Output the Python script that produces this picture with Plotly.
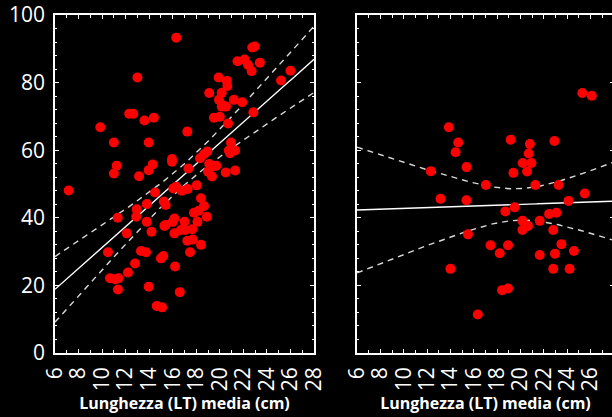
import numpy as np
import plotly.graph_objects as go

# ---------------- data ----------------
left_x = [16.3, 13.0, 12.3, 12.65, 9.85, 13.6, 14.4, 11.0, 13.96, 17.24,
          7.16, 11.24, 11.0, 13.14, 14.3, 13.96, 15.94, 15.94, 17.33, 18.94,
          18.66, 18.32, 19.1, 19.45, 19.7, 19.0, 19.34, 20.5, 21.3, 20.95,
          20.76, 21.3, 20.87, 20.7, 19.5, 20.0, 19.1, 19.9, 20.6, 20.64,
          20.16, 19.93, 20.16, 20.53, 21.2, 21.9, 22.85, 21.5, 22.1, 22.4,
          22.7, 23.4, 22.76, 22.97, 25.2, 26.0, 14.5, 16.05, 16.3, 16.76,
          17.27, 18.04, 18.4, 15.24, 15.4, 13.8, 18.66, 18.2, 17.8, 18.9,
          18.1, 17.66, 17.0, 16.7, 17.05, 16.14, 16.0, 15.4, 15.3, 16.14,
          17.24, 17.7, 17.47, 18.4, 11.33, 12.94, 12.9, 13.8, 14.2, 12.1,
          10.5, 13.3, 13.73, 15.0, 15.2, 12.8, 12.2, 10.67, 11.1, 11.4,
          11.35, 16.2, 13.96, 16.6, 14.64, 15.1, 20.3]
left_y = [93.3, 81.5, 70.8, 70.8, 66.8, 68.8, 69.6, 62.3, 62.3, 65.5,
          48.1, 55.4, 53.1, 52.3, 55.8, 54.1, 57.4, 56.6, 54.6, 59.6,
          58.8, 57.6, 55.9, 55.3, 55.4, 53.6, 52.2, 53.4, 54.0, 62.3,
          59.9, 59.9, 59.1, 67.9, 69.6, 69.9, 76.9, 81.5, 80.5, 79.0,
          77.0, 74.9, 72.9, 72.9, 74.9, 74.2, 71.2, 86.3, 86.8, 85.2,
          83.4, 85.9, 90.4, 90.7, 80.6, 83.5, 47.5, 48.7, 49.2, 48.0,
          48.5, 49.6, 45.8, 44.8, 43.8, 44.1, 43.5, 42.1, 41.5, 40.3,
          38.8, 36.6, 38.8, 36.4, 36.4, 39.8, 38.8, 37.9, 37.6, 35.4,
          33.2, 33.6, 29.8, 32.0, 40.0, 42.5, 40.3, 38.8, 35.9, 35.4,
          29.8, 30.2, 29.8, 28.0, 28.7, 26.5, 23.8, 22.1, 21.8, 22.1,
          18.8, 25.6, 19.6, 18.0, 13.9, 13.5, 73.2]

right_x = [25.29, 26.1, 13.86, 14.66, 14.44, 15.38, 12.32, 17.03, 19.16, 20.8,
           20.7, 20.19, 20.93, 19.39, 20.56, 22.9, 21.27, 23.26, 25.5, 13.15,
           15.37, 24.1, 19.5, 18.7, 22.44, 23.07, 20.16, 20.64, 20.16, 21.64,
           22.8, 15.5, 23.5, 17.43, 18.93, 18.22, 21.64, 22.95, 24.57, 14.0,
           22.8, 24.2, 18.42, 18.93, 16.34]
right_y = [76.9, 76.1, 66.8, 62.3, 59.4, 55.0, 53.8, 49.7, 63.1, 61.8,
           59.0, 56.2, 56.2, 53.3, 53.7, 62.7, 49.7, 49.7, 47.2, 45.6,
           45.2, 45.0, 43.1, 41.9, 41.1, 41.5, 39.1, 37.6, 36.4, 39.1,
           36.4, 35.1, 32.2, 31.9, 31.9, 29.5, 29.0, 29.4, 30.2, 24.9,
           24.9, 24.9, 18.6, 19.1, 11.4]

x_ticks = list(range(6, 29, 2))
y_ticks = [0, 20, 40, 60, 80, 100]
x_title = "Lunghezza (LT) media (cm)"
X_RANGE = [6, 28]
Y_RANGE = [0, 100]

# ---------------- fit helpers ----------------
def fit_with_ci(xs, ys, tval):
    x = np.asarray(xs, float)
    y = np.asarray(ys, float)
    n = len(x)
    b, a = np.polyfit(x, y, 1)
    resid = y - (a + b * x)
    s = np.sqrt(np.sum(resid ** 2) / (n - 2))
    xm = x.mean()
    sxx = np.sum((x - xm) ** 2)
    xg = np.linspace(X_RANGE[0], X_RANGE[1], 200)
    yg = a + b * xg
    se = s * np.sqrt(1.0 / n + (xg - xm) ** 2 / sxx)
    return xg, yg, yg - tval * se, yg + tval * se

fig = go.Figure()
panels = [(left_x, left_y, "x", "y", 1.983), (right_x, right_y, "x2", "y2", 2.017)]
for xs, ys, xa, ya, tv in panels:
    xg, yg, lo, hi = fit_with_ci(xs, ys, tv)
    for band in (lo, hi):
        fig.add_trace(go.Scatter(x=xg, y=band, mode="lines", xaxis=xa, yaxis=ya,
                                 line=dict(color="#d9d9d9", width=1.4, dash="6px,5px"),
                                 showlegend=False, hoverinfo="skip", cliponaxis=True))
    fig.add_trace(go.Scatter(x=xg, y=yg, mode="lines", xaxis=xa, yaxis=ya,
                             line=dict(color="white", width=1.4),
                             showlegend=False, hoverinfo="skip"))
    fig.add_trace(go.Scatter(x=xs, y=ys, mode="markers", xaxis=xa, yaxis=ya,
                             marker=dict(color="#ff0000", size=10, line=dict(width=0)),
                             showlegend=False))

W = 620
ML, MR, MT, MB = 55, 6, 15, 64
pw = W - ML - MR
d1 = [0, (314 - ML) / pw]
d2 = [(357 - ML) / pw, 1]

tickfont = dict(family="Open Sans", size=21, color="white")
common_x = dict(range=X_RANGE, tickmode="array", tickvals=x_ticks, ticktext=[str(v) for v in x_ticks],
                tickangle=-90, showgrid=False, zeroline=False, showline=True, linecolor="white",
                linewidth=1.5, mirror="ticks", ticks="inside", ticklen=4, tickcolor="white",
                tickwidth=1, minor=dict(ticks="inside", ticklen=3, dtick=1, tickcolor="white", showgrid=False),
                tickfont=tickfont, ticklabelstandoff=4,
                title=dict(text="<b>" + x_title + "</b>", font=dict(family="Open Sans", size=16, color="white"),
                           standoff=8))
common_y = dict(range=Y_RANGE, tickmode="array", tickvals=y_ticks, showgrid=False, zeroline=False,
                showline=True, linecolor="white", linewidth=1.5, mirror="ticks", ticks="inside",
                ticklen=4, tickcolor="white", tickwidth=1,
                minor=dict(ticks="inside", ticklen=2, dtick=4, tickcolor="white", showgrid=False),
                tickfont=tickfont, ticklabelstandoff=4)

fig.update_layout(
    width=W, height=417,
    margin=dict(l=ML, r=MR, t=MT, b=MB, autoexpand=False),
    paper_bgcolor="black", plot_bgcolor="black",
    xaxis=dict(domain=d1, anchor="y", **common_x),
    yaxis=dict(domain=[0, 1], anchor="x", **common_y),
    xaxis2=dict(domain=d2, anchor="y2", **common_x),
    yaxis2=dict(domain=[0, 1], anchor="x2", showticklabels=False, **common_y),
)

fig.write_html("out.html",
               post_script="document.documentElement.style.overflow='hidden';document.body.style.overflow='hidden';document.body.style.margin='0';")
